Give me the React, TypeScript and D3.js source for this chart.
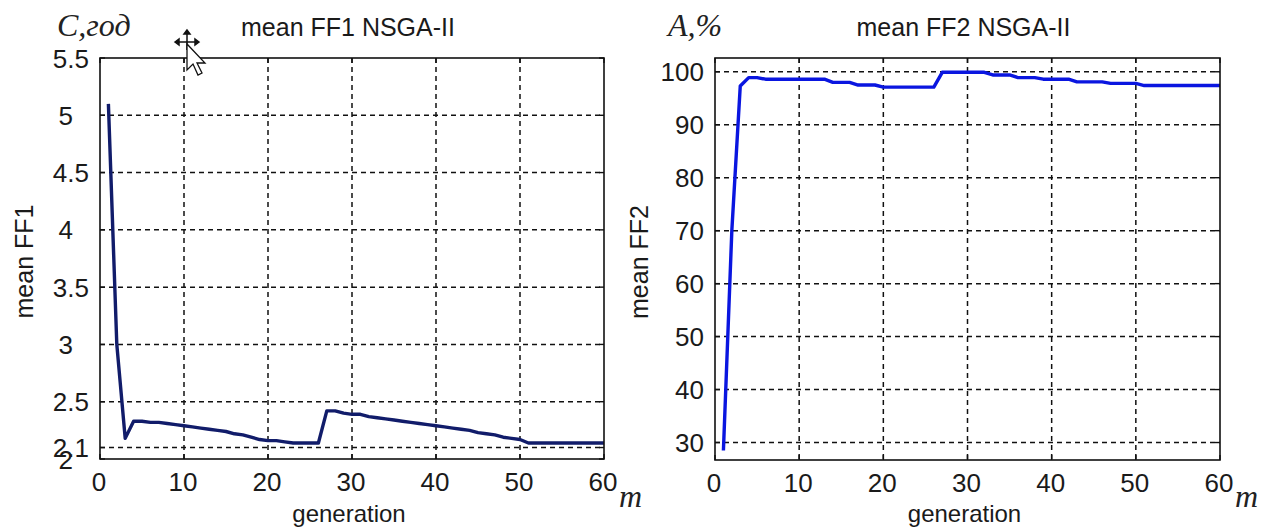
import { useEffect, useRef } from 'react';
import * as d3 from 'd3';

// generation index 1..60
const generations = d3.range(1, 61);

// mean FF1 (C, years) per generation
const meanFF1 = [
  5.10, 3.00, 2.18, 2.33, 2.33, 2.32, 2.32, 2.31, 2.30, 2.29,
  2.28, 2.27, 2.26, 2.25, 2.24, 2.22, 2.21, 2.19, 2.17, 2.16,
  2.16, 2.15, 2.14, 2.14, 2.14, 2.14, 2.42, 2.42, 2.40, 2.39,
  2.39, 2.37, 2.36, 2.35, 2.34, 2.33, 2.32, 2.31, 2.30, 2.29,
  2.28, 2.27, 2.26, 2.25, 2.23, 2.22, 2.21, 2.19, 2.18, 2.17,
  2.14, 2.14, 2.14, 2.14, 2.14, 2.14, 2.14, 2.14, 2.14, 2.14,
];

// mean FF2 (A, %) per generation
const meanFF2 = [
  28.5, 70.0, 97.3, 98.9, 98.9, 98.6, 98.6, 98.6, 98.6, 98.6,
  98.6, 98.6, 98.6, 98.0, 98.0, 98.0, 97.5, 97.5, 97.5, 97.1,
  97.1, 97.1, 97.1, 97.1, 97.1, 97.1, 99.9, 99.9, 99.9, 99.9,
  99.9, 99.9, 99.4, 99.4, 99.4, 98.9, 98.9, 98.9, 98.6, 98.6,
  98.6, 98.6, 98.1, 98.1, 98.1, 98.1, 97.8, 97.8, 97.8, 97.8,
  97.4, 97.4, 97.4, 97.4, 97.4, 97.4, 97.4, 97.4, 97.4, 97.4,
];

const xTicks = [0, 10, 20, 30, 40, 50, 60];
const ff1Ticks = [2, 2.1, 2.5, 3, 3.5, 4, 4.5, 5, 5.5];
const ff2Ticks = [30, 40, 50, 60, 70, 80, 90, 100];

const W = 1269;
const H = 531;
const SANS = '"Liberation Sans", Arial, sans-serif';
const SERIF = '"Liberation Serif", "Times New Roman", serif';

interface PanelSpec {
  values: number[];
  yDomain: [number, number];
  yTicks: number[];
  left: number;
  right: number;
  top: number;
  bottom: number;
  color: string;
  title: string;
  yLabel: string;
  unitLabel: string;
  unitX: number;
  intOffset: number;
}

const panels: PanelSpec[] = [
  {
    values: meanFF1,
    yDomain: [2, 5.5],
    yTicks: ff1Ticks,
    left: 100,
    right: 604,
    top: 58,
    bottom: 459,
    color: '#111c6a',
    title: 'mean FF1 NSGA-II',
    yLabel: 'mean FF1',
    unitLabel: 'C,год',
    unitX: 57,
    intOffset: -16,
  },
  {
    values: meanFF2,
    yDomain: [26.7, 102.6],
    yTicks: ff2Ticks,
    left: 715,
    right: 1220,
    top: 58,
    bottom: 460,
    color: '#0a16e0',
    title: 'mean FF2 NSGA-II',
    yLabel: 'mean FF2',
    unitLabel: 'A,%',
    unitX: 668,
    intOffset: 0,
  },
];

export default function App() {
  const svgRef = useRef<SVGSVGElement>(null);

  useEffect(() => {
    if (!svgRef.current) return;
    const svg = d3.select(svgRef.current);
    svg.selectAll('*').remove();

    svg.append('rect').attr('width', W).attr('height', H).attr('fill', '#ffffff');

    panels.forEach((p) => {
      const x = d3.scaleLinear().domain([0, 60]).range([p.left, p.right]);
      const y = d3.scaleLinear().domain(p.yDomain).range([p.bottom, p.top]);
      const g = svg.append('g');

      // dashed grid
      g.selectAll('line.vgrid')
        .data(xTicks.filter((t) => t > 0 && t < 60))
        .enter()
        .append('line')
        .attr('x1', (d) => x(d))
        .attr('x2', (d) => x(d))
        .attr('y1', p.top)
        .attr('y2', p.bottom)
        .attr('stroke', '#111')
        .attr('stroke-width', 1.5)
        .attr('stroke-dasharray', '5,4');

      g.selectAll('line.hgrid')
        .data(p.yTicks.filter((t) => t > p.yDomain[0] && t < p.yDomain[1]))
        .enter()
        .append('line')
        .attr('x1', p.left)
        .attr('x2', p.right)
        .attr('y1', (d) => y(d))
        .attr('y2', (d) => y(d))
        .attr('stroke', '#111')
        .attr('stroke-width', 1.5)
        .attr('stroke-dasharray', '5,4');

      // data line
      const line = d3
        .line<number>()
        .x((_, i) => x(generations[i]))
        .y((d) => y(d));

      g.append('path')
        .datum(p.values)
        .attr('d', line)
        .attr('fill', 'none')
        .attr('stroke', p.color)
        .attr('stroke-width', 3.4)
        .attr('stroke-linejoin', 'round');

      // axes box
      g.append('rect')
        .attr('x', p.left)
        .attr('y', p.top)
        .attr('width', p.right - p.left)
        .attr('height', p.bottom - p.top)
        .attr('fill', 'none')
        .attr('stroke', '#111')
        .attr('stroke-width', 1.6);

      // inward ticks on all four sides
      xTicks.forEach((t) => {
        g.append('line').attr('x1', x(t)).attr('x2', x(t)).attr('y1', p.bottom).attr('y2', p.bottom - 5).attr('stroke', '#111').attr('stroke-width', 1.4);
        g.append('line').attr('x1', x(t)).attr('x2', x(t)).attr('y1', p.top).attr('y2', p.top + 5).attr('stroke', '#111').attr('stroke-width', 1.4);
      });
      p.yTicks.forEach((t) => {
        g.append('line').attr('x1', p.left).attr('x2', p.left + 5).attr('y1', y(t)).attr('y2', y(t)).attr('stroke', '#111').attr('stroke-width', 1.4);
        g.append('line').attr('x1', p.right).attr('x2', p.right - 5).attr('y1', y(t)).attr('y2', y(t)).attr('stroke', '#111').attr('stroke-width', 1.4);
      });

      // x tick labels
      g.selectAll('text.xt')
        .data(xTicks)
        .enter()
        .append('text')
        .attr('x', (d) => x(d) - 1)
        .attr('y', p.bottom + 32)
        .attr('text-anchor', 'middle')
        .attr('font-family', SANS)
        .attr('font-size', 26)
        .attr('fill', '#1a1a1a')
        .text((d) => d);

      // y tick labels
      g.selectAll('text.yt')
        .data(p.yTicks)
        .enter()
        .append('text')
        .attr('x', (d) => p.left - 11 + (Number.isInteger(d) ? p.intOffset : 0))
        .attr('y', (d) => y(d) + 9.5)
        .attr('text-anchor', 'end')
        .attr('font-family', SANS)
        .attr('font-size', 26)
        .attr('fill', '#1a1a1a')
        .text((d) => d);

      const cx = (p.left + p.right) / 2;

      // title
      g.append('text')
        .attr('x', cx - 4)
        .attr('y', 36)
        .attr('text-anchor', 'middle')
        .attr('font-family', SANS)
        .attr('font-size', 25)
        .attr('fill', '#1a1a1a')
        .text(p.title);

      // x label
      g.append('text')
        .attr('x', cx - 3)
        .attr('y', 522)
        .attr('text-anchor', 'middle')
        .attr('font-family', SANS)
        .attr('font-size', 24)
        .attr('fill', '#1a1a1a')
        .text('generation');

      // y label
      g.append('text')
        .attr('transform', `translate(${p.left - 67},${(p.top + p.bottom) / 2 + 3}) rotate(-90)`)
        .attr('text-anchor', 'middle')
        .attr('font-family', SANS)
        .attr('font-size', 25)
        .attr('fill', '#1a1a1a')
        .text(p.yLabel);

      // unit annotations
      g.append('text')
        .attr('x', p.unitX)
        .attr('y', 36)
        .attr('font-family', SERIF)
        .attr('font-style', 'italic')
        .attr('font-size', 32)
        .attr('fill', '#222')
        .text(p.unitLabel);

      g.append('text')
        .attr('x', p.right + 15)
        .attr('y', 507)
        .attr('font-family', SERIF)
        .attr('font-style', 'italic')
        .attr('font-size', 32)
        .attr('fill', '#222')
        .text('m');
    });

    // mouse cursor captured in the screenshot
    const cur = svg.append('g').attr('transform', 'translate(187,42)');
    cur.append('path')
      .attr('d', 'M-12,0 H12 M0,-12 V8 M-12,0 l4,-3 v6 z M12,0 l-4,-3 v6 z M0,-12 l-3,4 h6 z')
      .attr('stroke', '#111')
      .attr('stroke-width', 1.5)
      .attr('fill', '#111');
    cur.append('path')
      .attr('d', 'M0,2 L0,28 L6,22 L11,33 L15,31 L10,21 L18,21 Z')
      .attr('fill', '#fff')
      .attr('stroke', '#111')
      .attr('stroke-width', 1.3);
  }, []);

  return (
    <svg
      ref={svgRef}
      width={W}
      height={H}
      viewBox={`0 0 ${W} ${H}`}
      style={{ position: 'absolute', left: 0, top: 0, display: 'block' }}
    />
  );
}
